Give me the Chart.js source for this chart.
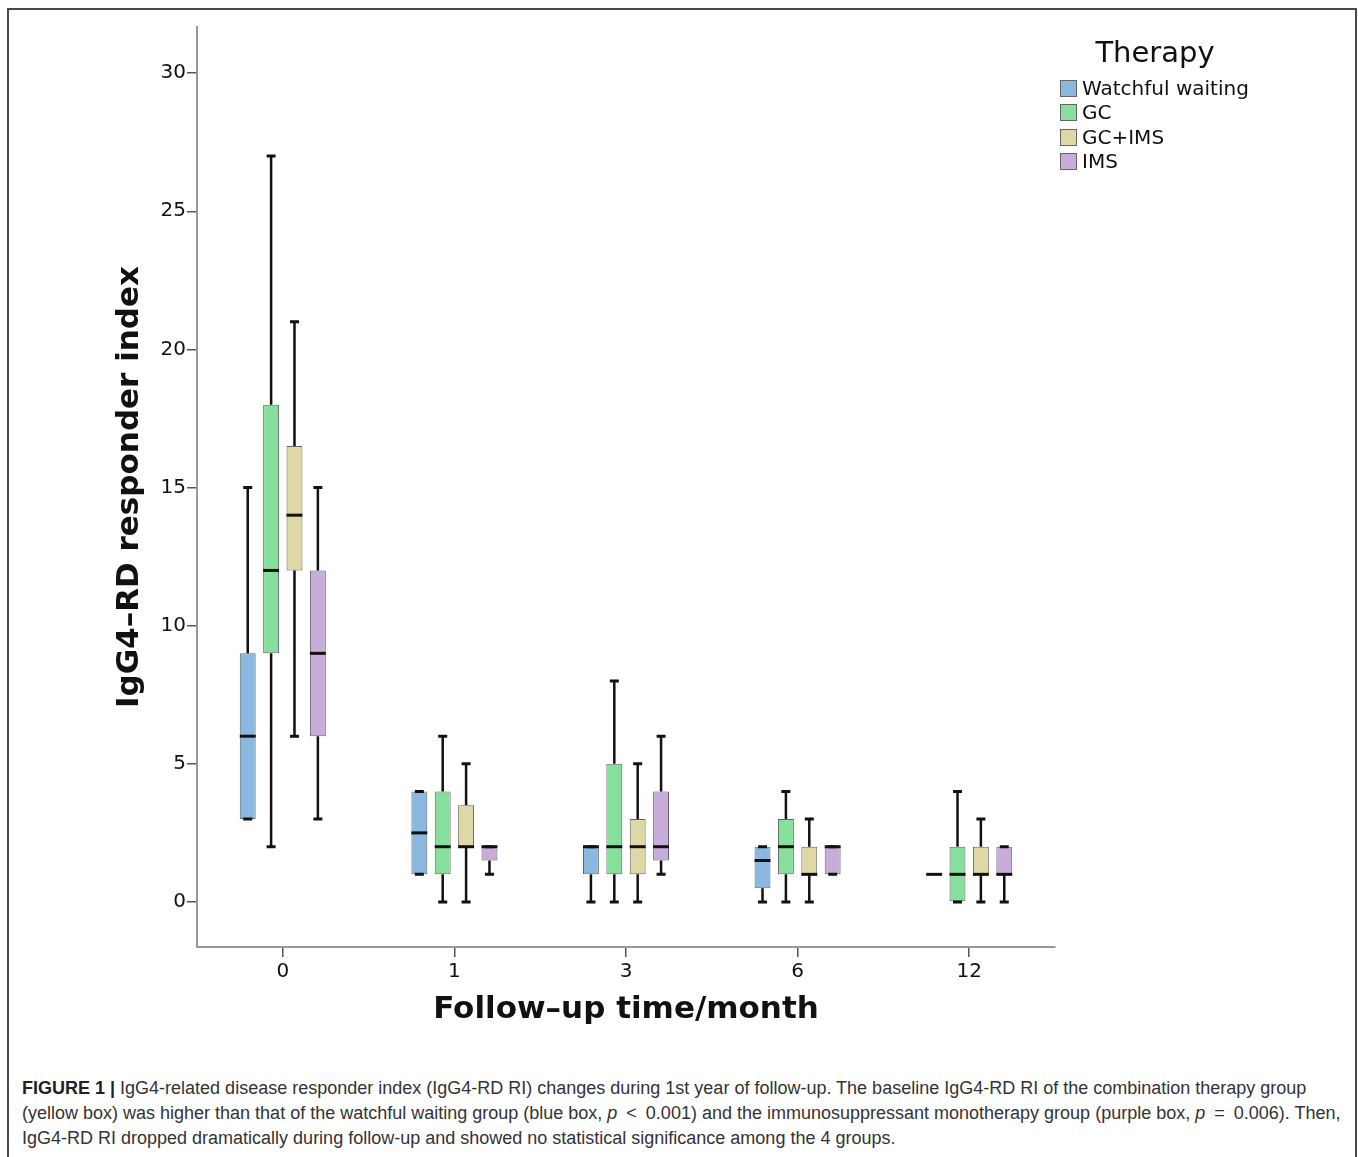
<!DOCTYPE html>
<html>
<head>
<meta charset="utf-8">
<script src="https://cdn.jsdelivr.net/npm/chart.js@4.4.1/dist/chart.umd.min.js"></script>
<style>
  html, body { margin: 0; padding: 0; background: #fff; }
  body { width: 1358px; height: 1157px; position: relative; overflow: hidden; }
  #frame { position: absolute; left: 7px; top: 8px; width: 1346px; height: 1160px;
           border: 2px solid #4a4a4a; border-bottom: none; }
  #chartBox { position: absolute; left: 0; top: 0; width: 1358px; height: 1060px; }
  #legend { position: absolute; left: 1060px; top: 28px; font-family: 'DejaVu Sans', sans-serif; color: #111; }
  #legend .title { font-size: 29px; width: 190px; text-align: center; line-height: 48px; }
  #legend .item { height: 24.3px; line-height: 24px; font-size: 20px; white-space: nowrap; }
  #legend .swatch { display: inline-block; width: 15px; height: 15px; border: 1px solid #666;
                    vertical-align: -2px; margin-right: 5px; }
  #caption { position: absolute; left: 22px; top: 1076px; font-family: 'Liberation Sans', Arial, sans-serif;
             font-size: 18px; line-height: 25px; color: #333; white-space: nowrap; }
  #caption b { color: #222; }
</style>
</head>
<body>
<div id="frame"></div>
<div id="chartBox"><canvas id="boxChart" width="1358" height="1060"></canvas></div>
<div id="legend"></div>
<div id="caption">
  <b>FIGURE 1 |</b> IgG4-related disease responder index (IgG4-RD RI) changes during 1st year of follow-up. The baseline IgG4-RD RI of the combination therapy group<br>
  (yellow box) was higher than that of the watchful waiting group (blue box, <i>p</i>&ensp;&lt;&ensp;0.001) and the immunosuppressant monotherapy group (purple box, <i>p</i>&ensp;=&ensp;0.006). Then,<br>
  IgG4-RD RI dropped dramatically during follow-up and showed no statistical significance among the 4 groups.
</div>
<script>
// follow-up months (categories)
var months = ['0', '1', '3', '6', '12'];
var therapies = ['Watchful waiting', 'GC', 'GC+IMS', 'IMS'];
var yTicks = [0, 5, 10, 15, 20, 25, 30];

// each entry: [min, q1, median, q3, max] per month
var watchfulWaiting = [[3, 3, 6, 9, 15], [1, 1, 2.5, 4, 4], [0, 1, 2, 2, 2], [0, 0.5, 1.5, 2, 2], [1, 1, 1, 1, 1]];
var gc = [[2, 9, 12, 18, 27], [0, 1, 2, 4, 6], [0, 1, 2, 5, 8], [0, 1, 2, 3, 4], [0, 0, 1, 2, 4]];
var gcIms = [[6, 12, 14, 16.5, 21], [0, 2, 2, 3.5, 5], [0, 1, 2, 3, 5], [0, 1, 1, 2, 3], [0, 1, 1, 2, 3]];
var ims = [[3, 6, 9, 12, 15], [1, 1.5, 2, 2, 2], [1, 1.5, 2, 4, 6], [1, 1, 2, 2, 2], [0, 1, 1, 2, 2]];

var boxColors = ['#8bb8e0', '#86e09c', '#ddd8a6', '#c8acd9'];

var allStats = [watchfulWaiting, gc, gcIms, ims];

// whiskers + medians on top of the floating bars
var whiskerPlugin = {
    id: 'whiskers',
    afterDatasetsDraw: function (chart) {
        var ctx = chart.ctx;
        var yScale = chart.scales.y;
        ctx.save();
        ctx.strokeStyle = '#111';
        allStats.forEach(function (stats, di) {
            var meta = chart.getDatasetMeta(di);
            meta.data.forEach(function (bar, i) {
                var s = stats[i];
                var x = bar.x;
                var half = bar.width / 2;
                var yMin = yScale.getPixelForValue(s[0]);
                var yQ1 = yScale.getPixelForValue(s[1]);
                var yMed = yScale.getPixelForValue(s[2]);
                var yQ3 = yScale.getPixelForValue(s[3]);
                var yMax = yScale.getPixelForValue(s[4]);

                ctx.lineWidth = 2.5;
                ctx.beginPath();
                if (s[4] > s[3]) {
                    ctx.moveTo(x, yQ3);
                    ctx.lineTo(x, yMax);
                }
                if (s[0] < s[1]) {
                    ctx.moveTo(x, yQ1);
                    ctx.lineTo(x, yMin);
                }
                ctx.stroke();

                // caps
                if (s[4] > s[1] || s[0] < s[3]) {
                    ctx.lineWidth = 3;
                    ctx.beginPath();
                    ctx.moveTo(x - 4.5, yMax);
                    ctx.lineTo(x + 4.5, yMax);
                    ctx.moveTo(x - 4.5, yMin);
                    ctx.lineTo(x + 4.5, yMin);
                    ctx.stroke();
                }

                // median
                ctx.lineWidth = 3;
                ctx.beginPath();
                ctx.moveTo(x - half, yMed);
                ctx.lineTo(x + half, yMed);
                ctx.stroke();
            });
        });
        ctx.restore();
    }
};

var datasets = allStats.map(function (stats, i) {
    return {
        label: therapies[i],
        data: stats.map(function (s) { return [s[1], s[3]]; }),
        backgroundColor: boxColors[i],
        borderColor: '#666',
        borderWidth: 1,
        borderSkipped: false,
        categoryPercentage: 0.545,
        barPercentage: 0.68
    };
});

var ctx = document.getElementById('boxChart').getContext('2d');
new Chart(ctx, {
    type: 'bar',
    data: { labels: months, datasets: datasets },
    plugins: [whiskerPlugin],
    options: {
        responsive: false,
        animation: false,
        layout: { padding: { top: 27, right: 303, bottom: 0, left: 0 } },
        plugins: {
            legend: { display: false },
            tooltip: { enabled: false }
        },
        scales: {
            x: {
                grid: { offset: false, drawOnChartArea: false, tickLength: 10, color: '#555', lineWidth: 1.5 },
                border: { color: '#999', width: 2 },
                ticks: { color: '#111', padding: 3, font: { family: 'DejaVu Sans', size: 20 } },
                title: {
                    display: true,
                    text: 'Follow\u2013up time/month',
                    color: '#111',
                    font: { family: 'DejaVu Sans', size: 31, weight: 'bold' },
                    padding: { top: 0, bottom: 31 }
                },
                afterFit: function (scale) { scale.height = 113; }
            },
            y: {
                min: -1.63,
                max: 31.67,
                afterBuildTicks: function (scale) {
                    scale.ticks = yTicks.map(function (v) { return { value: v }; });
                },
                grid: { drawOnChartArea: false, tickLength: 10, color: '#555', lineWidth: 1.5 },
                border: { color: '#999', width: 2 },
                ticks: { color: '#111', padding: 1, font: { family: 'DejaVu Sans', size: 20 } },
                title: {
                    display: true,
                    text: 'IgG4\u2013RD responder index',
                    color: '#111',
                    font: { family: 'DejaVu Sans', size: 31, weight: 'bold' },
                    padding: { top: 111, bottom: 0 }
                },
                afterFit: function (scale) { scale.width = 197; }
            }
        }
    }
});

// legend built from the same series arrays
var legendEl = document.getElementById('legend');
var html = '<div class="title">Therapy</div>';
therapies.forEach(function (name, i) {
    html += '<div class="item"><span class="swatch" style="background:' + boxColors[i] + '"></span>' + name + '</div>';
});
legendEl.innerHTML = html;
</script>
</body>
</html>
